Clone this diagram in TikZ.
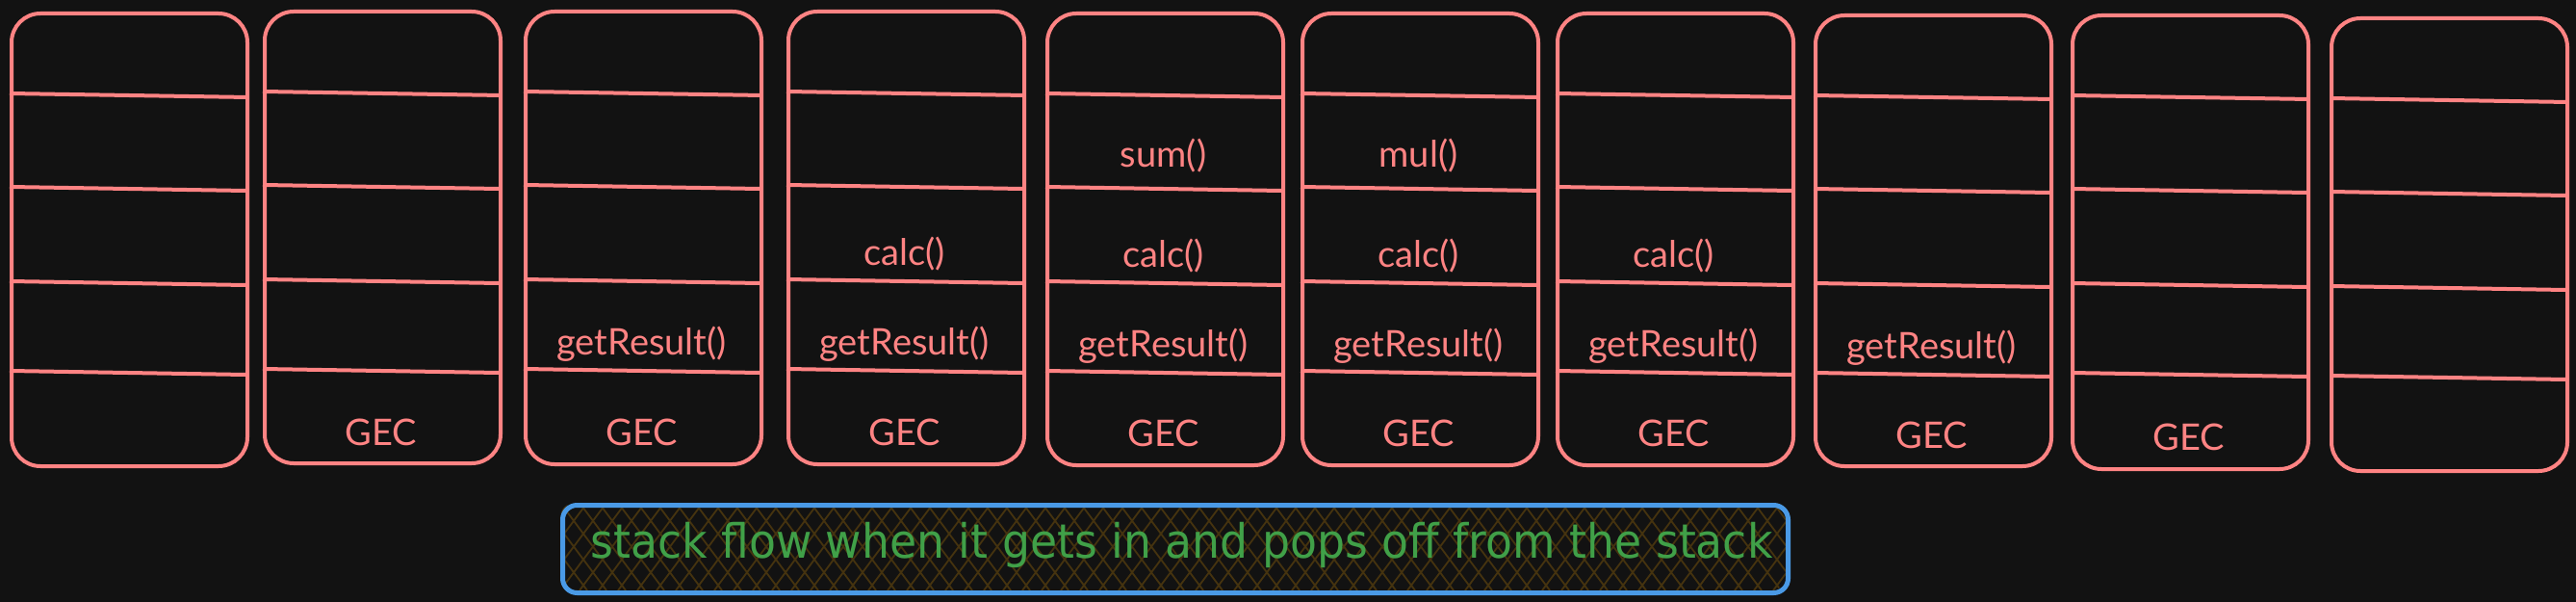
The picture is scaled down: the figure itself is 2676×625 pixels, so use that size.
\documentclass[tikz,border=0pt]{standalone}
\usepackage{fontspec}
\usepackage{graphicx}
\newfontfamily\lblfont{Lato}
\newfontfamily\capfont{DejaVu Sans}
\definecolor{bgc}{HTML}{121212}
\definecolor{pinkc}{HTML}{FF8383}
\definecolor{greenc}{HTML}{40A048}
\definecolor{bluec}{HTML}{4A9AE6}
\definecolor{hatchc}{HTML}{45330F}
\tikzset{
  stackbox/.style={draw=pinkc, line width=2pt, rounded corners=15pt, fill=bgc,
    minimum width=122.5pt, inner sep=0pt, anchor=north west},
  divider/.style={draw=pinkc, line width=2pt},
  lbl/.style={text=pinkc, font=\lblfont\fontsize{19}{22}\selectfont, anchor=base, inner sep=0pt},
  capframe/.style={draw=bluec, line width=2.5pt, rounded corners=7.5pt, inner sep=0pt,
    minimum width=636.5pt, minimum height=45.5pt, anchor=north west},
  hatch/.style={draw=hatchc, line width=0.9pt},
}
\begin{document}
\begin{tikzpicture}[x=0.5pt, y=-0.5pt]
  \fill[bgc] (0,0) rectangle (2676,625);
  \useasboundingbox (0,0) rectangle (2676,625);
  % stacks
  \foreach \n/\l/\t/\b in {1/10/12/482, 2/273/10/479, 3/544/10/480, 4/817/10/480,
      5/1086/12/481, 6/1351/12/481, 7/1616/12/481, 8/1884/14/482, 9/2151/14/485, 10/2420/17/487} {
    \pgfmathsetmacro{\h}{(\b-\t)*0.5}
    \node[stackbox, minimum height=\h pt] (b\n) at (\l,\t) {};
    \draw[divider] (\l,\t+85) -- (\l+248,\t+89);
    \draw[divider] (\l,\t+182) -- (\l+245,\t+186);
    \draw[divider] (\l,\t+280) -- (\l+245,\t+284);
    \draw[divider] (\l,\t+373) -- (\l+245,\t+377);
  }
  % labels
  \node[lbl] (g2) at (395.5,462) {GEC};
  \node[lbl] (r3) at (666.5,369) {getResult()};
  \node[lbl] (g3) at (666.5,462) {GEC};
  \node[lbl] (c4) at (939.5,276) {calc()};
  \node[lbl] (r4) at (939.5,369) {getResult()};
  \node[lbl] (g4) at (939.5,462) {GEC};
  \node[lbl] (s5) at (1208.5,174) {sum()};
  \node[lbl] (c5) at (1208.5,278) {calc()};
  \node[lbl] (r5) at (1208.5,371) {getResult()};
  \node[lbl] (g5) at (1208.5,464) {GEC};
  \node[lbl] (m6) at (1473.5,174) {mul()};
  \node[lbl] (c6) at (1473.5,278) {calc()};
  \node[lbl] (r6) at (1473.5,371) {getResult()};
  \node[lbl] (g6) at (1473.5,464) {GEC};
  \node[lbl] (c7) at (1738.5,278) {calc()};
  \node[lbl] (r7) at (1738.5,371) {getResult()};
  \node[lbl] (g7) at (1738.5,464) {GEC};
  \node[lbl] (r8) at (2006.5,373) {getResult()};
  \node[lbl] (g8) at (2006.5,466) {GEC};
  \node[lbl] (g9) at (2273.5,467) {GEC};
  % caption
  \begin{scope}
    \clip[rounded corners=7.5pt] (582,522) rectangle (1855,613);
    \foreach \i in {-5,...,66} {
      \draw[hatch] (582+\i*20,613) -- ++(68,-91);
      \draw[hatch] (582+\i*20,522) -- ++(68,91);
    }
  \end{scope}
  \node[capframe] (capbox) at (582,522) {};
  \node[anchor=base west, inner sep=0pt, text=greenc] (cap) at (613,579)
    {\resizebox{614pt}{\height}{\capfont\fontsize{24.5}{28}\selectfont stack flow when it gets in and pops off from the stack}};
\end{tikzpicture}
\end{document}
